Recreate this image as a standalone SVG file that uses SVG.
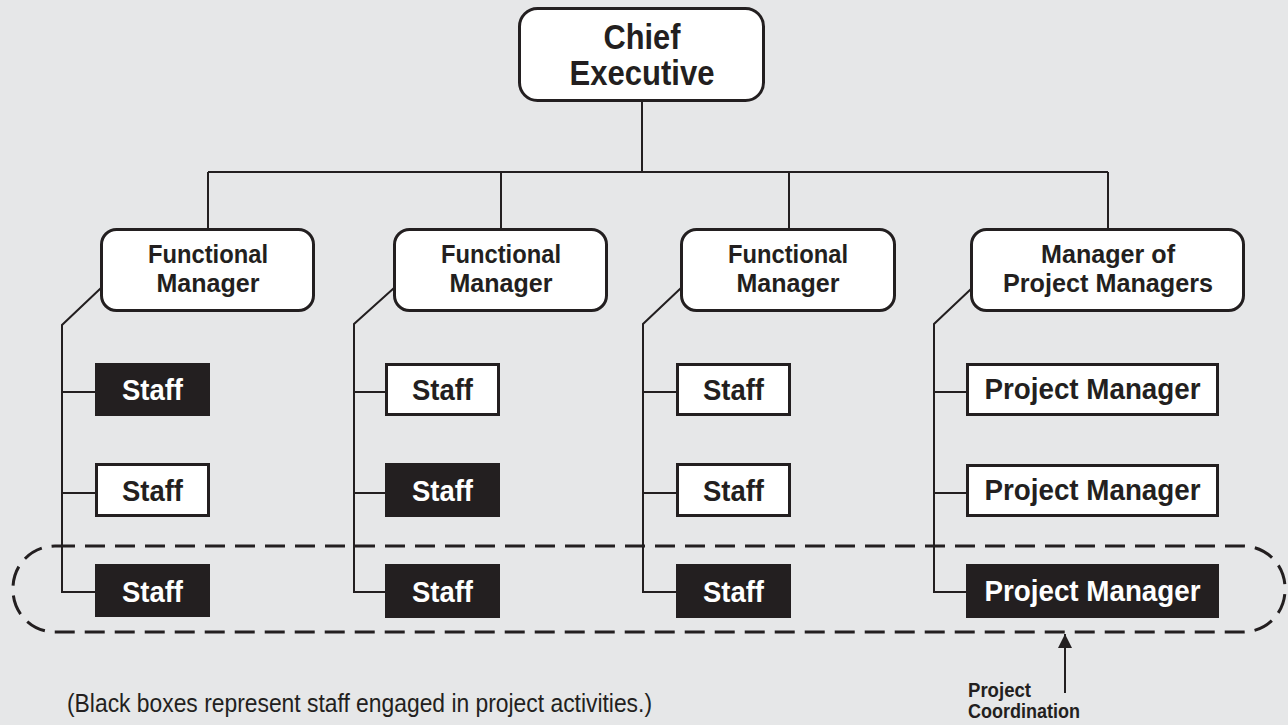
<svg xmlns="http://www.w3.org/2000/svg" width="1288" height="725" viewBox="0 0 1288 725">
<defs>
<style>
.bg{fill:#e6e7e8}
.rbox{fill:#fff;stroke:#231f20;stroke-width:3}
.wbox{fill:#fff;stroke:#231f20;stroke-width:3}
.bbox{fill:#231f20}
.ln{fill:none;stroke:#231f20;stroke-width:2}
.dash{fill:none;stroke:#231f20;stroke-width:3;stroke-dasharray:20 10}
.t{font-family:"Liberation Sans",Arial,sans-serif;font-weight:bold;text-anchor:middle;fill:#231f20}
.tw{fill:#fff}
.big{font-size:35px}
.mid{font-size:26px}
.stf{font-size:30px}
.sm{font-size:20px;text-anchor:start}
.note{font-family:"Liberation Sans",Arial,sans-serif;font-size:25px;fill:#231f20}
</style>
<marker id="ah" viewBox="0 0 14 14" refX="14" refY="7" markerWidth="14" markerHeight="14" markerUnits="userSpaceOnUse" orient="auto">
<path d="M0 0 L14 7 L0 14 Z" fill="#231f20"/>
</marker>
</defs>
<rect class="bg" x="0" y="0" width="1288" height="725"/>

<g id="connectors">
<path class="ln" d="M642 102 V172"/>
<path class="ln" d="M208 172 H1108"/>
<path class="ln" d="M208 172 V229 M501 172 V229 M789 172 V229 M1108 172 V229"/>
<path class="ln" d="M101 288 L62 325 V592 H95 M62 392 H95 M62 493 H95"/>
<path class="ln" d="M394 288 L354 324 V592 H385 M354 392 H385 M354 493 H385"/>
<path class="ln" d="M681 288 L643 324 V592 H676 M643 392 H676 M643 493 H676"/>
<path class="ln" d="M971 289 L934 324 V592 H966 M934 392 H966 M934 493 H966"/>
<path class="ln" d="M1065 693 V634" marker-end="url(#ah)"/>
</g>

<g id="project-coordination-boundary">
<rect class="dash" x="13" y="546" width="1272" height="86" rx="42" ry="42"/>
</g>

<g id="chief">
<rect class="rbox" x="519.5" y="8.5" width="244" height="92" rx="18"/>
<text class="t big" x="642" y="49" textLength="77" lengthAdjust="spacingAndGlyphs">Chief</text>
<text class="t big" x="642" y="85" textLength="145" lengthAdjust="spacingAndGlyphs">Executive</text>
</g>

<g id="fm1">
<rect class="rbox" x="101.5" y="229.5" width="212" height="81" rx="15"/>
<text class="t mid" x="208" y="263" textLength="120" lengthAdjust="spacingAndGlyphs">Functional</text>
<text class="t mid" x="208" y="292" textLength="103" lengthAdjust="spacingAndGlyphs">Manager</text>
</g>
<g id="fm2">
<rect class="rbox" x="394.5" y="229.5" width="212" height="81" rx="15"/>
<text class="t mid" x="501" y="263" textLength="120" lengthAdjust="spacingAndGlyphs">Functional</text>
<text class="t mid" x="501" y="292" textLength="103" lengthAdjust="spacingAndGlyphs">Manager</text>
</g>
<g id="fm3">
<rect class="rbox" x="681.5" y="229.5" width="213" height="81" rx="15"/>
<text class="t mid" x="788" y="263" textLength="120" lengthAdjust="spacingAndGlyphs">Functional</text>
<text class="t mid" x="788" y="292" textLength="103" lengthAdjust="spacingAndGlyphs">Manager</text>
</g>
<g id="mpm">
<rect class="rbox" x="971.5" y="229.5" width="272" height="81" rx="15"/>
<text class="t mid" x="1108" y="263" textLength="134" lengthAdjust="spacingAndGlyphs">Manager of</text>
<text class="t mid" x="1108" y="292" textLength="210" lengthAdjust="spacingAndGlyphs">Project Managers</text>
</g>

<g id="staff-1-1">
<rect class="bbox" x="95" y="363" width="115" height="53"/>
<text class="t stf tw" x="152.5" y="400" textLength="61" lengthAdjust="spacingAndGlyphs">Staff</text>
</g>
<g id="staff-1-2">
<rect class="wbox" x="96.5" y="464.5" width="112" height="51"/>
<text class="t stf" x="152.5" y="501" textLength="61" lengthAdjust="spacingAndGlyphs">Staff</text>
</g>
<g id="staff-1-3">
<rect class="bbox" x="95" y="564" width="115" height="53"/>
<text class="t stf tw" x="152.5" y="602" textLength="61" lengthAdjust="spacingAndGlyphs">Staff</text>
</g>

<g id="staff-2-1">
<rect class="wbox" x="386.5" y="364.5" width="112" height="50"/>
<text class="t stf" x="442.5" y="400" textLength="61" lengthAdjust="spacingAndGlyphs">Staff</text>
</g>
<g id="staff-2-2">
<rect class="bbox" x="385" y="463" width="115" height="54"/>
<text class="t stf tw" x="442.5" y="501" textLength="61" lengthAdjust="spacingAndGlyphs">Staff</text>
</g>
<g id="staff-2-3">
<rect class="bbox" x="385" y="564" width="115" height="54"/>
<text class="t stf tw" x="442.5" y="602" textLength="61" lengthAdjust="spacingAndGlyphs">Staff</text>
</g>

<g id="staff-3-1">
<rect class="wbox" x="677.5" y="364.5" width="112" height="50"/>
<text class="t stf" x="733.5" y="400" textLength="61" lengthAdjust="spacingAndGlyphs">Staff</text>
</g>
<g id="staff-3-2">
<rect class="wbox" x="677.5" y="464.5" width="112" height="51"/>
<text class="t stf" x="733.5" y="501" textLength="61" lengthAdjust="spacingAndGlyphs">Staff</text>
</g>
<g id="staff-3-3">
<rect class="bbox" x="676" y="564" width="115" height="54"/>
<text class="t stf tw" x="733.5" y="602" textLength="61" lengthAdjust="spacingAndGlyphs">Staff</text>
</g>

<g id="pm-1">
<rect class="wbox" x="967.5" y="364.5" width="250" height="50"/>
<text class="t stf" x="1092.5" y="399" textLength="216" lengthAdjust="spacingAndGlyphs">Project Manager</text>
</g>
<g id="pm-2">
<rect class="wbox" x="967.5" y="465.5" width="250" height="50"/>
<text class="t stf" x="1092.5" y="500" textLength="216" lengthAdjust="spacingAndGlyphs">Project Manager</text>
</g>
<g id="pm-3">
<rect class="bbox" x="966" y="564" width="253" height="54"/>
<text class="t stf tw" x="1092.5" y="601" textLength="216" lengthAdjust="spacingAndGlyphs">Project Manager</text>
</g>

<g id="project-coordination-label">
<text class="t sm" x="968" y="697" textLength="63" lengthAdjust="spacingAndGlyphs">Project</text>
<text class="t sm" x="968" y="718" textLength="112" lengthAdjust="spacingAndGlyphs">Coordination</text>
</g>

<g id="note">
<text class="note" x="67" y="712" textLength="585" lengthAdjust="spacingAndGlyphs">(Black boxes represent staff engaged in project activities.)</text>
</g>
</svg>
